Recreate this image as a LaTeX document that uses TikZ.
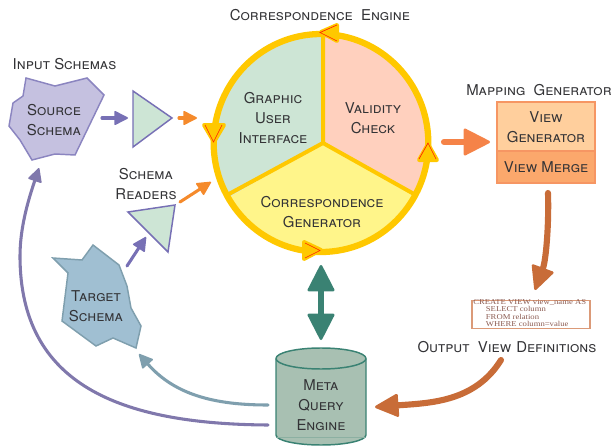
\documentclass[tikz,border=0pt]{standalone}
\usepackage{fontspec}
\setmainfont{TeX Gyre Heros}
\newfontfamily\sqlf[FakeStretch=1.16]{Liberation Serif}
\usetikzlibrary{arrows.meta,shapes.geometric}
\definecolor{txt}{HTML}{333336}
\definecolor{ringc}{HTML}{FFC800}
\definecolor{guif}{HTML}{CDE5D5}
\definecolor{valf}{HTML}{FFD0BE}
\definecolor{genf}{HTML}{FFF58A}
\definecolor{purp}{HTML}{7770B5}
\definecolor{purpb}{HTML}{8078AC}
\definecolor{oran}{HTML}{F58A2B}
\definecolor{orab}{HTML}{F58348}
\definecolor{teal2}{HTML}{3A8273}
\definecolor{brown2}{HTML}{C86C38}
\definecolor{slate}{HTML}{7F9FAE}
\definecolor{srcf}{HTML}{C5C1E0}
\definecolor{tgtf}{HTML}{A0BFD2}
\definecolor{vgf}{HTML}{FFCF9D}
\definecolor{vmf}{HTML}{FBA86C}
\definecolor{cylf}{HTML}{A8C0B2}
\definecolor{sqltxt}{HTML}{8A5A50}
\definecolor{sqlb}{HTML}{DB9A78}
\tikzset{
 lab/.style={font=\fontsize{11.2}{15}\selectfont\scshape,text=txt,align=center,inner sep=0pt},
 tri/.style={fill=guif,draw=purp,line width=1.1pt,line join=miter},
 thin arrow/.style={line width=2.3pt,line cap=round,draw=#1,-{Triangle[length=11pt,width=11pt,round,line width=1.2pt,fill=#1]}},
 fat arrow/.style={line width=4.6pt,line cap=round,draw=#1,-{Triangle[length=19pt,width=18pt,round,line width=2pt,fill=#1]}},
 huge arrow/.style={line width=4.6pt,line cap=round,draw=#1,-{Triangle[length=21pt,width=21pt,round,line width=2pt,fill=#1]}},
 ringhead/.style={fill=ringc,draw=ringc,line width=3pt,line join=round},
 redv/.style={draw=red!75!orange,line width=.5pt,line join=miter},
 boxs/.style={draw=orab!85!white,line width=1.1pt},
}
\begin{document}
\begin{tikzpicture}[x=.75pt,y=-.75pt]
\useasboundingbox (0,0) rectangle (612,446);
\coordinate (hub) at (323,143);
\coordinate (spU) at (323,34);
\coordinate (spR) at (414,194);
\coordinate (spL) at (229,194);
% sectors
\fill[guif] (hub) -- ++(-90:108) arc[start angle=-90,end angle=-210,radius=108] -- cycle;
\fill[valf] (hub) -- ++(-90:108) arc[start angle=-90,end angle=30,radius=108] -- cycle;
\fill[genf] (hub) -- ++(150:108) arc[start angle=150,end angle=30,radius=108] -- cycle;
\draw[ringc,line width=3pt,line join=round] (spU) -- (hub) -- (spR) (hub) -- (spL);
\node[ellipse,draw=ringc,line width=4.7pt,minimum width=161pt,minimum height=163.5pt,inner sep=0pt] (ring) at (321,143) {};
% ring heads
\draw[ringhead] (204,125) -- (224,125) -- (214,142) -- cycle;
\draw[redv] (205,125) -- (213.5,142) -- (222,125);
\draw[ringhead] (321,32) -- (337,25) -- (337,41) -- cycle;
\draw[redv] (337,25) -- (320,32.5) -- (337,41);
\draw[ringhead] (428,144) -- (419,160) -- (437,160) -- cycle;
\draw[redv] (419,159) -- (428,143) -- (436,159);
\draw[ringhead] (321,250) -- (304,242) -- (304,259) -- cycle;
\draw[redv] (305,243) -- (320,250.5) -- (305,258);
% sector labels
\node[lab] (gui) at (273,118.5) {Graphic\\User\\Interface};
\node[lab] (val) at (373,118.5) {Validity\\Check};
\node[lab] (gen) at (322,212.5) {Correspondence\\Generator};
\node[lab] (ce) at (320,15) {Correspondence\ \ Engine};
% source schema
\filldraw[fill=srcf,draw=purp!85!white,line width=1.1pt] (26,78) -- (55,86) -- (87,78) -- (104,95) -- (75,155) -- (55,154) -- (32,160) -- (20,140) -- (9,126) -- (13,103) -- (23,96) -- cycle;
\node[lab] (src) at (54,120) {Source\\Schema};
\node[lab] (inp) at (64.5,64) {Input Schemas};
% triangles
\draw[tri] (133,91) -- (172,118) -- (133,147) -- cycle;
\draw[tri] (128,212) -- (175,205) -- (168,252) -- cycle;
\node[lab] (rdr) at (146,184) {Schema\\Readers};
% target schema
\filldraw[fill=tgtf,draw=slate,line width=1.1pt] (53,258) -- (82,260) -- (93,245) -- (119,265) -- (127,286) -- (131,308) -- (141,326) -- (136,348) -- (113,338) -- (96,346) -- (62,321) -- (68,273) -- cycle;
\node[lab] (tgt) at (96,306) {Target\\Schema};
% view box
\draw[fill=vgf,boxs] (497,102) rectangle (595,151);
\draw[fill=vmf,boxs] (497,151) rectangle (595,183);
\node[lab] (vg) at (546,127) {View\\Generator};
\node[lab] (vm) at (546,167) {View Merge};
\node[lab] (map) at (539,90) {Mapping\ \ Generator};
% SQL
\node[draw=sqlb,line width=.8pt,minimum width=88.5pt,minimum height=21.5pt,inner sep=0pt] (sql) at (531,314.5) {};
\node[inner sep=0pt,anchor=north west,text=sqltxt,align=left,font=\fontsize{5.6}{5.4}\selectfont\sqlf] (sqlt) at (473,299.5) {CREATE VIEW view\_name AS\\\hspace{9.5pt}SELECT column\\\hspace{9.5pt}FROM relation\\\hspace{9.5pt}WHERE column=value};
\node[lab] (out) at (507,347) {Output\ \ View\,\,Definitions};
% cylinder
\draw[fill=cylf,draw=teal2,line width=1.1pt] (276,358.5) -- (276,435) arc[start angle=180,end angle=0,x radius=45,y radius=10] -- (366,358.5) arc[start angle=0,end angle=-180,x radius=45,y radius=10.5] -- cycle;
\draw[draw=teal2,line width=1.1pt] (276,358.5) arc[start angle=180,end angle=0,x radius=45,y radius=10.5];
\draw[draw=teal2!25!cylf,line width=.5pt] (277,437) -- (365,437);
\node[lab] (mqe) at (321,405) {Meta\\Query\\Engine};
% connector ends
\coordinate (a1s) at (102,118); \coordinate (a1e) at (128,118);
\coordinate (a2s) at (179,118); \coordinate (a2e) at (197,118);
\coordinate (a3s) at (180,202); \coordinate (a3e) at (211,182);
\coordinate (a4s) at (127,266); \coordinate (a4e) at (146,237);
\coordinate (a5s) at (444,142); \coordinate (a5e) at (490,142);
\coordinate (a6s) at (548,193); \coordinate (a6e) at (535,290);
\coordinate (a7s) at (501,360); \coordinate (a7e) at (375,407);
\coordinate (a8s) at (268,405); \coordinate (a8e) at (139,354);
\coordinate (a9s) at (268,425); \coordinate (a9m) at (20,256); \coordinate (a9e) at (39,168);
\coordinate (a10s) at (321,265); \coordinate (a10e) at (321,340);
% connectors
\draw[thin arrow=purp] (a1s) -- (a1e);
\draw[thin arrow=oran] (a2s) -- (a2e);
\draw[thin arrow=oran] (a3s) -- (a3e);
\draw[thin arrow=purp] (a4s) -- (a4e);
\draw[huge arrow=orab] (a5s) -- (a5e);
\draw[fat arrow=brown2] (a6s) .. controls (549,225) and (546,260) .. (a6e);
\draw[fat arrow=brown2] (a7s) .. controls (475,402) and (430,403) .. (a7e);
\draw[thin arrow=slate] (a8s) .. controls (215,405) and (175,395) .. (a8e);
\draw[line width=2.3pt,line cap=round,draw=purpb,-{Triangle[length=11pt,width=11pt,round,line width=1.2pt,fill=purpb]}] (a9s) .. controls (120,424) and (20,385) .. (a9m) .. controls (20,225) and (30,195) .. (a9e);
\draw[line width=5pt,draw=teal2,{Triangle[length=21pt,width=21pt,round,line width=2pt,fill=teal2]}-{Triangle[length=21pt,width=21pt,round,line width=2pt,fill=teal2]}] (a10s) -- (a10e);
\end{tikzpicture}
\end{document}
